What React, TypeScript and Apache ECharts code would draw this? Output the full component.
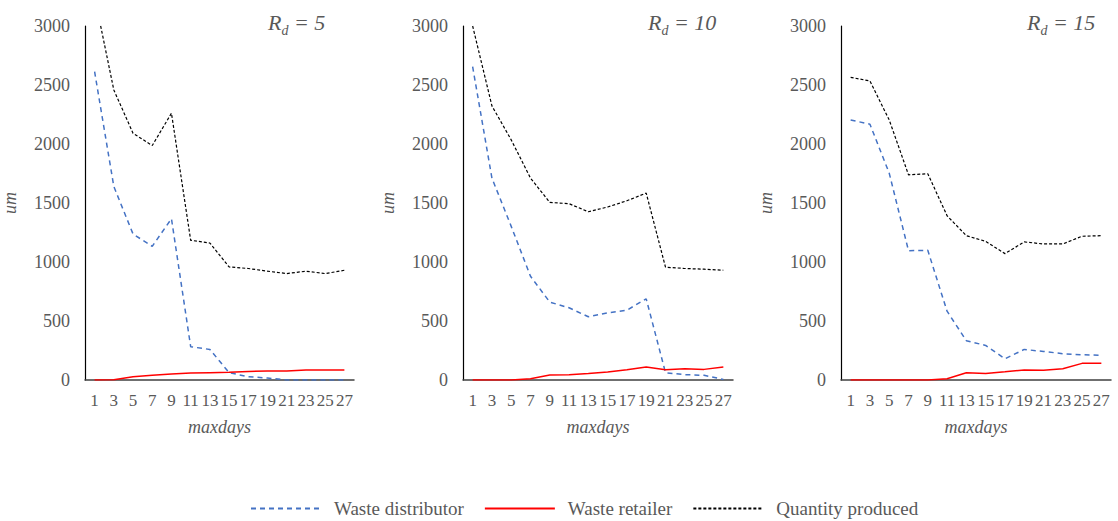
import React, { useEffect, useRef } from "react";
import * as echarts from "echarts";

const categories = ["1", "3", "5", "7", "9", "11", "13", "15", "17", "19", "21", "23", "25", "27"];
const panelTitles = ["5", "10", "15"];

const distributor5 = [2613, 1640, 1237, 1133, 1367, 282, 259, 62, 28, 17, 0, 0, 0, 0];
const retailer5 = [0, 2, 28, 40, 50, 59, 62, 65, 73, 76, 76, 85, 85, 85];
const produced5 = [3250, 2458, 2091, 1987, 2261, 1184, 1161, 958, 945, 922, 902, 922, 902, 930];

const distributor10 = [2655, 1711, 1302, 879, 660, 612, 536, 569, 592, 688, 62, 45, 40, 5];
const retailer10 = [0, 0, 0, 11, 42, 45, 56, 68, 87, 110, 87, 96, 90, 110];
const produced10 = [3000, 2323, 2035, 1711, 1505, 1494, 1426, 1466, 1519, 1584, 956, 945, 939, 930];

const distributor15 = [2204, 2168, 1753, 1096, 1099, 583, 333, 293, 180, 259, 242, 223, 214, 209];
const retailer15 = [0, 0, 0, 0, 0, 11, 62, 56, 70, 85, 82, 96, 141, 141];
const produced15 = [2565, 2534, 2204, 1739, 1748, 1392, 1223, 1175, 1071, 1170, 1153, 1153, 1218, 1223];

const distributorData = [distributor5, distributor10, distributor15];
const retailerData = [retailer5, retailer10, retailer15];
const producedData = [produced5, produced10, produced15];

const FONT = "Liberation Serif";
const GRAY = "#595959";

export default function App() {
  const ref = useRef<HTMLDivElement>(null);
  useEffect(() => {
    if (!ref.current) return;
    const chart = echarts.init(ref.current, undefined, { renderer: "svg" });
    const lefts = [84, 463, 841];
    const titleLefts = [263, 643, 1022];
    const grids = lefts.map((l) => ({ left: l, top: 26, width: 270, height: 354 }));
    const xAxes = lefts.map((_, i) => ({
      type: "category",
      gridIndex: i,
      data: categories,
      boundaryGap: true,
      name: "maxdays",
      nameLocation: "middle",
      nameGap: 38,
      nameTextStyle: { fontFamily: FONT, fontStyle: "italic", fontSize: 18, color: GRAY },
      axisLine: { lineStyle: { color: "#404040", width: 1.5 } },
      axisTick: { show: false },
      axisLabel: { fontFamily: FONT, fontSize: 17, color: GRAY, margin: 12, interval: 0 },
      splitLine: { show: false },
    }));
    const yAxes = lefts.map((_, i) => ({
      type: "value",
      gridIndex: i,
      min: 0,
      max: 3000,
      interval: 500,
      name: "um",
      nameLocation: "middle",
      nameGap: 66,
      nameTextStyle: { fontFamily: FONT, fontStyle: "italic", fontSize: 18, color: GRAY },
      axisLine: { show: true, lineStyle: { color: "#000", width: 1.2 } },
      axisTick: { show: false },
      axisLabel: { fontFamily: FONT, fontSize: 18, color: GRAY, margin: 15, formatter: (v: number) => String(v) },
      splitLine: { show: false },
    }));
    const series: any[] = [];
    for (let i = 0; i < 3; i++) {
      series.push({
        name: "Waste distributor",
        type: "line",
        xAxisIndex: i,
        yAxisIndex: i,
        data: distributorData[i],
        symbol: "none",
        clip: true,
        itemStyle: { color: "#4472C4" },
        lineStyle: { color: "#4472C4", width: 1.5, type: [5, 4] },
      });
      series.push({
        name: "Waste retailer",
        type: "line",
        xAxisIndex: i,
        yAxisIndex: i,
        data: retailerData[i],
        symbol: "none",
        clip: true,
        itemStyle: { color: "#FF0000" },
        lineStyle: { color: "#FF0000", width: 1.5, type: "solid" },
      });
      series.push({
        name: "Quantity produced",
        type: "line",
        xAxisIndex: i,
        yAxisIndex: i,
        data: producedData[i],
        symbol: "none",
        clip: true,
        itemStyle: { color: "#000000" },
        lineStyle: { color: "#000000", width: 1.2, type: [3, 2] },
      });
    }
    const base = { fontFamily: FONT, fontStyle: "italic", fontWeight: "normal", color: GRAY };
    const titles = panelTitles.map((t, i) => ({
      text: `{r|R}{d|d}{e| = ${t}}`,
      left: titleLefts[i],
      top: 3,
      textStyle: {
        fontWeight: "normal",
        fontFamily: FONT,
        rich: {
          r: { ...base, fontSize: 22, lineHeight: 28 },
          d: { ...base, fontSize: 14, padding: [16, 0, 0, 0], lineHeight: 14 },
          e: { ...base, fontSize: 22, lineHeight: 28 },
        },
      },
    }));
    chart.setOption({
      animation: false,
      textStyle: { fontFamily: FONT },
      title: titles,
      grid: grids,
      xAxis: xAxes,
      yAxis: yAxes,
      legend: {
        data: ["Waste distributor", "Waste retailer", "Quantity produced"],
        left: 245,
        top: 494,
        itemWidth: 70,
        itemHeight: 14,
        itemGap: 20,
        itemStyle: { opacity: 0 },
        textStyle: { fontFamily: FONT, fontSize: 19, color: GRAY, padding: [0, 0, 0, 8] },
      },
      series,
    });
    return () => chart.dispose();
  }, []);
  return <div ref={ref} style={{ position: "absolute", left: 0, top: 0, width: 1118, height: 521 }} />;
}
